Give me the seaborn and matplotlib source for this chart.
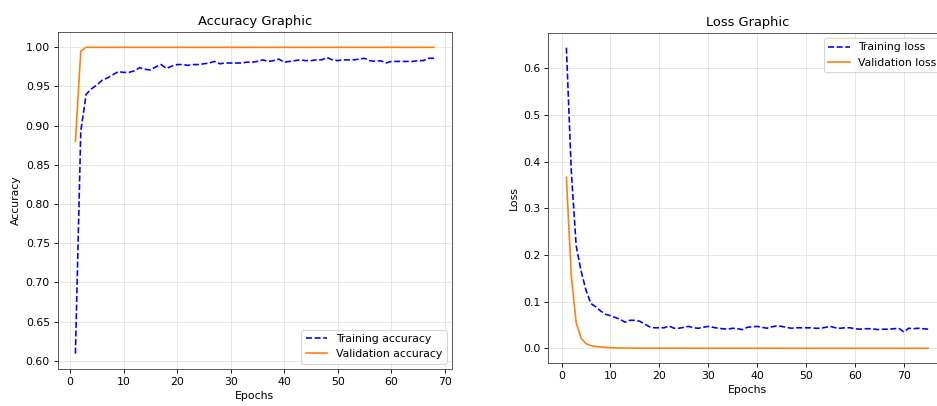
import matplotlib
matplotlib.use("Agg")
import matplotlib.pyplot as plt
import seaborn as sns
import numpy as np
import pandas as pd

# Per-epoch training history
train_acc = [
    0.609, 0.893, 0.940, 0.947, 0.952, 0.958, 0.961, 0.965, 0.969, 0.968,
    0.968, 0.970, 0.974, 0.972, 0.971, 0.975, 0.978, 0.973, 0.976, 0.978,
    0.978, 0.977, 0.978, 0.978, 0.979, 0.980, 0.982, 0.979, 0.980, 0.980,
    0.980, 0.980, 0.981, 0.981, 0.982, 0.984, 0.982, 0.983, 0.985, 0.981,
    0.982, 0.983, 0.984, 0.983, 0.983, 0.984, 0.984, 0.987, 0.984, 0.983,
    0.984, 0.984, 0.984, 0.985, 0.986, 0.983, 0.982, 0.983, 0.980, 0.982,
    0.982, 0.982, 0.982, 0.982, 0.983, 0.983, 0.986, 0.986,
]
val_acc = [0.880, 0.995] + [1.0] * 66

train_loss = [
    0.644, 0.380, 0.220, 0.166, 0.125, 0.096, 0.089, 0.080, 0.073, 0.070,
    0.066, 0.062, 0.056, 0.060, 0.060, 0.058, 0.052, 0.046, 0.044, 0.044,
    0.044, 0.048, 0.043, 0.043, 0.045, 0.047, 0.044, 0.043, 0.045, 0.047,
    0.045, 0.043, 0.042, 0.041, 0.043, 0.042, 0.040, 0.045, 0.046, 0.047,
    0.045, 0.043, 0.046, 0.048, 0.047, 0.045, 0.043, 0.044, 0.044, 0.044,
    0.044, 0.043, 0.043, 0.045, 0.047, 0.044, 0.043, 0.044, 0.044, 0.042,
    0.041, 0.042, 0.042, 0.041, 0.040, 0.041, 0.041, 0.042, 0.043, 0.035,
    0.043, 0.042, 0.043, 0.042, 0.041,
]
val_loss = [
    0.366, 0.155, 0.055, 0.022, 0.010, 0.006, 0.004, 0.003, 0.002, 0.0015,
    0.0010, 0.0008, 0.0006, 0.0005, 0.0004,
] + [0.0003] * 10 + [0.0002] * 20 + [0.0001] * 30

acc_epochs = list(range(1, len(train_acc) + 1))
loss_epochs = list(range(1, len(train_loss) + 1))

acc_df = pd.DataFrame({"epoch": acc_epochs, "train": train_acc, "val": val_acc})
loss_df = pd.DataFrame({"epoch": loss_epochs, "train": train_loss, "val": val_loss})

W, H, DPI = 937, 406, 78
fig = plt.figure(figsize=(W / DPI, H / DPI), dpi=DPI)
fig.patch.set_facecolor("white")

# The loss panel runs slightly past the right edge of the canvas
ax1 = fig.add_axes([57.5 / W, (H - 369) / H, 394.5 / W, 337 / H])
ax2 = fig.add_axes([548.3 / W, (H - 363.3) / H, 398 / W, 330.6 / H])

blue = "#0000ff"
orange = "#ff7f0e"

sns.lineplot(data=acc_df, x="epoch", y="train", ax=ax1, color=blue,
             linestyle="--", linewidth=1.5, label="Training accuracy")
sns.lineplot(data=acc_df, x="epoch", y="val", ax=ax1, color=orange,
             linewidth=1.5, label="Validation accuracy")
ax1.set_title("Accuracy Graphic")
ax1.set_xlabel("Epochs")
ax1.set_ylabel("Accuracy")
ax1.set_xticks(np.arange(0, 71, 10))
ax1.legend(loc="lower right")

sns.lineplot(data=loss_df, x="epoch", y="train", ax=ax2, color=blue,
             linestyle="--", linewidth=1.5, label="Training loss")
sns.lineplot(data=loss_df, x="epoch", y="val", ax=ax2, color=orange,
             linewidth=1.5, label="Validation loss")
ax2.set_title("Loss Graphic")
ax2.set_xlabel("Epochs")
ax2.set_ylabel("Loss")
ax2.set_xticks(np.arange(0, 71, 10))
ax2.legend(loc="upper right")

for ax in (ax1, ax2):
    ax.grid(True, alpha=0.35)
    ax.set_axisbelow(True)
    for s in ax.spines.values():
        s.set_edgecolor("#444444")

fig.savefig("out.png", dpi=DPI)
